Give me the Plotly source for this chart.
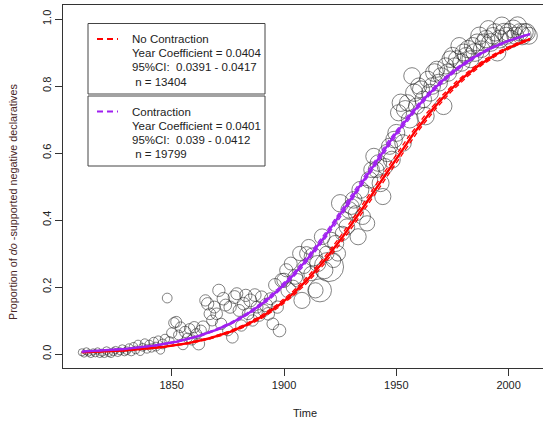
import numpy as np
import plotly.graph_objects as go

# ---------------- data ----------------
years = list(range(1810, 2010))
proportion = [
    # 1810s
    0.005, 0.0, 0.008, 0.003, 0.0, 0.006, 0.002, 0.009, 0.0, 0.004,
    # 1820s
    0.0, 0.01, 0.003, 0.0, 0.007, 0.012, 0.004, 0.008, 0.016, 0.005,
    # 1830s
    0.01, 0.018, 0.006, 0.022, 0.012, 0.028, 0.008, 0.02, 0.032, 0.015,
    # 1840s
    0.028, 0.018, 0.036, 0.022, 0.04, 0.012, 0.03, 0.045, 0.167, 0.038,
    # 1850s
    0.063, 0.093, 0.096, 0.057, 0.08, 0.028, 0.066, 0.048, 0.075, 0.042,
    # 1860s
    0.08, 0.06, 0.03, 0.07, 0.08, 0.16, 0.15, 0.12, 0.1, 0.14,
    # 1870s
    0.12, 0.19, 0.09, 0.165, 0.146, 0.07, 0.14, 0.05, 0.17, 0.18,
    # 1880s
    0.13, 0.085, 0.15, 0.175, 0.12, 0.16, 0.1, 0.176, 0.14, 0.115,
    # 1890s
    0.17, 0.13, 0.146, 0.12, 0.165, 0.09, 0.206, 0.14, 0.07, 0.22,
    # 1900s
    0.22, 0.25, 0.19, 0.27, 0.2, 0.23, 0.22, 0.3, 0.16, 0.26,
    # 1910s
    0.3, 0.32, 0.24, 0.29, 0.19, 0.27, 0.19, 0.35, 0.25, 0.3,
    # 1920s
    0.26, 0.34, 0.28, 0.33, 0.3, 0.45, 0.36, 0.4, 0.38, 0.43,
    # 1930s
    0.44, 0.46, 0.42, 0.35, 0.49, 0.41, 0.48, 0.39, 0.52, 0.55,
    # 1940s
    0.59, 0.55, 0.57, 0.51, 0.47, 0.56, 0.6, 0.62, 0.58, 0.64,
    # 1950s
    0.66, 0.72, 0.75, 0.63, 0.73, 0.75, 0.7, 0.83, 0.78, 0.74,
    # 1960s
    0.8, 0.79, 0.76, 0.71, 0.82, 0.78, 0.8, 0.84, 0.85, 0.81,
    # 1970s
    0.83, 0.74, 0.86, 0.84, 0.88, 0.89, 0.86, 0.88, 0.92, 0.87,
    # 1980s
    0.9, 0.89, 0.91, 0.88, 0.92, 0.9, 0.93, 0.95, 0.91, 0.93,
    # 1990s
    0.94, 0.97, 0.93, 0.95, 0.96, 0.9, 0.94, 0.98, 0.96, 0.95,
    # 2000s
    0.96, 0.94, 0.97, 0.95, 0.98, 0.96, 0.95, 0.96, 0.96, 0.95,
]
tokens = [
    3, 2, 3, 2, 3, 2, 3, 2, 3, 3,
    3, 4, 3, 3, 4, 3, 4, 3, 4, 3,
    4, 5, 4, 5, 4, 6, 5, 4, 6, 5,
    6, 5, 7, 6, 7, 5, 8, 7, 8, 7,
    9, 10, 11, 8, 10, 9, 12, 8, 10, 9,
    12, 10, 14, 11, 16, 12, 15, 13, 11, 14,
    13, 15, 12, 16, 14, 10, 15, 13, 17, 14,
    14, 12, 16, 15, 13, 17, 12, 16, 14, 13,
    15, 14, 18, 16, 14, 13, 17, 15, 16, 20,
    22, 18, 26, 17, 20, 24, 19, 22, 30, 18,
    20, 24, 22, 40, 26, 30, 70, 28, 34, 24,
    120, 28, 24, 30, 26, 36, 22, 30, 28, 32,
    28, 32, 26, 30, 34, 28, 30, 26, 32, 28,
    30, 28, 32, 34, 30, 28, 36, 30, 34, 32,
    34, 30, 36, 32, 38, 30, 34, 32, 36, 30,
    30, 34, 32, 36, 30, 34, 32, 38, 30, 34,
    32, 34, 30, 36, 32, 34, 30, 34, 32, 36,
    34, 32, 36, 34, 32, 38, 34, 36, 32, 34,
    36, 34, 38, 32, 36, 34, 38, 36, 40, 34,
    38, 36, 40, 34, 38, 36, 40, 38, 36, 34,
]

# logistic fits (year coefficient, midpoint year, CI half-width in years)
nc_slope, nc_mid, nc_ci = 0.0404, 1941.5, 1.2
c_slope, c_mid, c_ci = 0.0401, 1933.5, 0.9
fit_years = np.arange(1810, 2009.6, 0.5)

legend_nc = ["No Contraction", "Year Coefficient = 0.0404", "95%CI:  0.0391 - 0.0417", " n = 13404"]
legend_c = ["Contraction", "Year Coefficient = 0.0401", "95%CI:  0.039 - 0.0412", " n = 19799"]

RED = "#ff0000"
PURPLE = "#a020f0"


def logistic(x, slope, mid):
    return 1.0 / (1.0 + np.exp(-slope * (x - mid)))


fig = go.Figure()
fig.add_trace(go.Scatter(
    x=years, y=proportion, mode="markers",
    marker=dict(size=[2.4 * np.sqrt(n) + 3 for n in tokens], color="rgba(0,0,0,0)",
                line=dict(color="#222222", width=0.8)),
    hoverinfo="skip", showlegend=False))

for slope, mid, ci, col in [(nc_slope, nc_mid, nc_ci, RED), (c_slope, c_mid, c_ci, PURPLE)]:
    fig.add_trace(go.Scatter(x=fit_years, y=logistic(fit_years, slope, mid), mode="lines",
                             line=dict(color=col, width=2.4), showlegend=False, hoverinfo="skip"))
    for d in (-ci, ci):
        fig.add_trace(go.Scatter(x=fit_years, y=logistic(fit_years, slope, mid + d), mode="lines",
                                 line=dict(color=col, width=1.3, dash="5px,3px"),
                                 showlegend=False, hoverinfo="skip"))

W, H = 543, 424
L, T, B = 63, 5, 56
PW, PH = W - L, H - T - B


def px(x):
    return (x - L) / PW


def py(y):
    return (H - B - y) / PH


shapes = []
annotations = []
FONT = "Liberation Sans, Arial, sans-serif"
TXT = "#222222"

for (top, bottom, lines, col) in [(23.5, 94, legend_nc, RED), (96, 166, legend_c, PURPLE)]:
    shapes.append(dict(type="rect", xref="paper", yref="paper",
                       x0=px(88), x1=px(265), y0=py(bottom), y1=py(top),
                       line=dict(color="#444444", width=1), fillcolor="white", layer="above"))
    y0 = top + 15.5
    shapes.append(dict(type="line", xref="paper", yref="paper",
                       x0=px(97), x1=px(118), y0=py(y0), y1=py(y0),
                       line=dict(color=col, width=1.8, dash="6px,4px"), layer="above"))
    for i, t in enumerate(lines):
        annotations.append(dict(xref="paper", yref="paper", x=px(130), y=py(y0 + i * 14.2),
                                text=t.replace(" ", "&nbsp;") if t.startswith(" ") else t,
                                showarrow=False, xanchor="left", yanchor="middle",
                                font=dict(family=FONT, size=11.5, color=TXT)))

annotations.append(dict(xref="paper", yref="paper", x=px(13), y=py(202),
                        text="Proportion of <i>do</i> -supported negative declaratives",
                        textangle=-90, showarrow=False, xanchor="center", yanchor="middle",
                        font=dict(family=FONT, size=10.8, color="#4a2828")))
annotations.append(dict(xref="paper", yref="paper", x=px(305), y=py(413),
                        text="Time", showarrow=False, xanchor="center", yanchor="middle",
                        font=dict(family=FONT, size=11, color=TXT)))

fig.update_layout(
    width=W, height=H, margin=dict(l=L, r=0, t=T, b=B),
    paper_bgcolor="white", plot_bgcolor="white",
    shapes=shapes, annotations=annotations,
    xaxis=dict(range=[1801.6, 1801.6 + PW / 2.246], tickvals=[1850, 1900, 1950, 2000],
               showgrid=False, zeroline=False, showline=True, mirror=True,
               linecolor="#333333", linewidth=1, ticks="outside", ticklen=7,
               tickcolor="#333333", tickfont=dict(family=FONT, size=11, color=TXT)),
    yaxis=dict(range=[-0.0418, 1.0418], tickvals=[0, 0.2, 0.4, 0.6, 0.8, 1.0],
               ticktext=["0.0", "0.2", "0.4", "0.6", "0.8", "1.0"], tickangle=-90,
               showgrid=False, zeroline=False, showline=True, mirror=False,
               linecolor="#333333", linewidth=1, ticks="outside", ticklen=7,
               tickcolor="#333333", tickfont=dict(family=FONT, size=11, color=TXT)),
)

fig.write_html("out.html")
